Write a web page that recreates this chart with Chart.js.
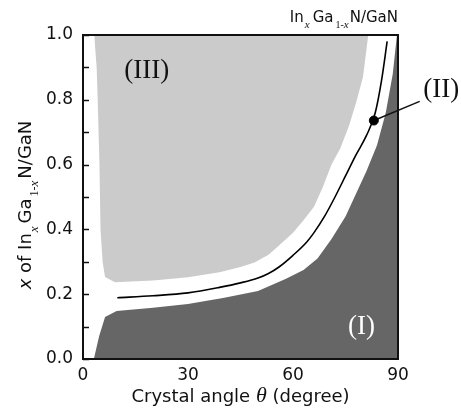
<!DOCTYPE html>
<html>
<head>
<meta charset="utf-8">
<script src="https://cdn.jsdelivr.net/npm/chart.js@4.4.0/dist/chart.umd.min.js"></script>
<style>
    body { margin: 0; background: #fff; }
    #caixa { width: 461px; height: 412px; }
</style>
</head>
<body>
<div id="caixa"><canvas id="graficoFases"></canvas></div>
<script>

// regiao (I) - borda de cima da area escura
const escuraX = [3.1, 4.6, 6.3, 9.6, 20, 30, 40, 50, 58, 63, 67, 71, 75, 78, 81, 84, 86.5, 88.5, 89.7, 90];
const escuraY = [0.0, 0.07, 0.13, 0.148, 0.158, 0.17, 0.188, 0.21, 0.248, 0.275, 0.31, 0.37, 0.44, 0.51, 0.58, 0.66, 0.76, 0.88, 1.0, 1.0];

// regiao (III) - borda da area cinza clara
const claraX = [3.2, 3.9, 4.2, 4.7, 5.0, 5.6, 6.3, 9.1, 20, 30, 39, 45, 49, 53, 56, 60, 63, 66, 68.5, 71, 73.5, 76, 78, 80, 81.5];
const claraY = [1.0, 0.9, 0.8, 0.6, 0.4, 0.3, 0.253, 0.237, 0.242, 0.252, 0.268, 0.284, 0.298, 0.322, 0.35, 0.39, 0.428, 0.47, 0.53, 0.6, 0.65, 0.72, 0.79, 0.87, 1.0];

// curva (II)
const curvaX = [9.8, 20, 30, 39, 45, 50, 53, 56, 60, 64, 66, 69, 72, 75, 78, 81, 83.5, 85.3, 86.9];
const curvaY = [0.189, 0.195, 0.204, 0.221, 0.235, 0.25, 0.264, 0.284, 0.32, 0.362, 0.39, 0.44, 0.5, 0.565, 0.63, 0.69, 0.76, 0.86, 0.98];

// ponto marcado e a linha que leva ao rotulo (II)
const pontoX = [83.1];
const pontoY = [0.736];
const guiaX = [83.1, 96.2];
const guiaY = [0.736, 0.795];

const ticksX = [0, 30, 60, 90];
const rotulosX = ['0', '30', '60', '90'];
const ticksY = [0, 0.2, 0.4, 0.6, 0.8, 1.0];
const rotulosY = ['0.0', '0.2', '0.4', '0.6', '0.8', '1.0'];

// rotulos das regioes, em coordenadas do grafico
const notas = [
    { texto: '(III)', x: 18.2, y: 0.868, cor: '#111', alinhar: 'center' },
    { texto: '(I)', x: 79.6, y: 0.076, cor: '#fff', alinhar: 'center' },
    { texto: '(II)', x: 97.2, y: 0.81, cor: '#111', alinhar: 'left' }
];

const SANS = '"DejaVu Sans", Verdana, sans-serif';
const SERIF = '"Liberation Serif", "Times New Roman", serif';

function juntar(xs, ys) {
    return xs.map((x, i) => ({ x: x, y: ys[i] }));
}

function rotuloDe(valor, lista, nomes) {
    let i = lista.findIndex(t => Math.abs(t - valor) < 1e-6);
    return i === -1 ? '' : nomes[i];
}

// escreve um texto com pedacos em fontes diferentes (subscritos)
function larguraPartes(ctx, partes) {
    let total = 0;
    partes.forEach(p => {
        ctx.font = p.f;
        total += (p.antes || 0) + ctx.measureText(p.t).width;
    });
    return total;
}

function escreverPartes(ctx, partes, x, y) {
    let posX = x;
    partes.forEach(p => {
        ctx.font = p.f;
        posX += p.antes || 0;
        ctx.fillText(p.t, posX, y + (p.dy || 0));
        posX += ctx.measureText(p.t).width;
    });
}

const tituloTopo = [
    { t: 'In', f: '15px ' + SANS },
    { t: 'x', f: 'italic 11px ' + SERIF, dy: 6, antes: 1 },
    { t: 'Ga', f: '15px ' + SANS, antes: 3 },
    { t: '1-', f: '10px ' + SERIF, dy: 6, antes: 2 },
    { t: 'x', f: 'italic 11px ' + SERIF, dy: 6 },
    { t: 'N/GaN', f: '15px ' + SANS, antes: 1 }
];

const tituloY = [
    { t: 'x', f: 'italic 18px ' + SANS },
    { t: ' of In', f: '18px ' + SANS },
    { t: 'x', f: 'italic 13px ' + SERIF, dy: 7, antes: 1 },
    { t: 'Ga', f: '18px ' + SANS, antes: 3 },
    { t: '1-', f: '12px ' + SERIF, dy: 7, antes: 2 },
    { t: 'x', f: 'italic 13px ' + SERIF, dy: 7 },
    { t: 'N/GaN', f: '18px ' + SANS, antes: 2 }
];

const tituloX = [
    { t: 'Crystal angle ', f: '18px ' + SANS },
    { t: '\u03B8', f: 'italic 22px ' + SERIF },
    { t: ' (degree)', f: '18px ' + SANS }
];

const desenhos = {
    id: 'desenhos',
    afterDatasetsDraw(chart) {
        const ctx = chart.ctx;
        const area = chart.chartArea;
        const sx = chart.scales.x;
        const sy = chart.scales.y;

        ctx.save();

        // tracinhos do eixo y, para dentro
        ctx.strokeStyle = '#111';
        ctx.lineWidth = 1.5;
        sy.ticks.forEach(t => {
            let py = Math.round(sy.getPixelForValue(t.value)) + 0.5;
            ctx.beginPath();
            ctx.moveTo(area.left, py);
            ctx.lineTo(area.left + 6, py);
            ctx.stroke();
        });

        // moldura
        ctx.lineWidth = 2;
        ctx.strokeRect(area.left, area.top, area.right - area.left, area.bottom - area.top);

        // rotulos das regioes
        ctx.textBaseline = 'alphabetic';
        notas.forEach(n => {
            ctx.font = '27px ' + SERIF;
            ctx.fillStyle = n.cor;
            ctx.textAlign = n.alinhar;
            ctx.fillText(n.texto, sx.getPixelForValue(n.x), sy.getPixelForValue(n.y));
        });

        ctx.textAlign = 'left';
        ctx.fillStyle = '#111';

        // titulo de cima, alinhado a direita da moldura
        let w = larguraPartes(ctx, tituloTopo);
        escreverPartes(ctx, tituloTopo, area.right - w, 22);

        // titulo do eixo x
        w = larguraPartes(ctx, tituloX);
        escreverPartes(ctx, tituloX, (area.left + area.right) / 2 - w / 2, 402);

        // titulo do eixo y, girado
        w = larguraPartes(ctx, tituloY);
        ctx.translate(31, (area.top + area.bottom) / 2 + 8);
        ctx.rotate(-Math.PI / 2);
        escreverPartes(ctx, tituloY, -w / 2, 0);

        ctx.restore();
    }
};

const ctx = document.getElementById('graficoFases');

new Chart(ctx, {
    type: 'scatter',
    data: {
        datasets: [
            {
                label: 'ponto',
                data: juntar(pontoX, pontoY),
                backgroundColor: '#000',
                borderColor: '#000',
                pointRadius: 4.5,
                order: 0
            },
            {
                label: 'guia',
                data: juntar(guiaX, guiaY),
                showLine: true,
                borderColor: '#111',
                borderWidth: 1.5,
                pointRadius: 0,
                clip: false,
                order: 1
            },
            {
                label: 'curva (II)',
                data: juntar(curvaX, curvaY),
                showLine: true,
                borderColor: '#000',
                borderWidth: 1.6,
                pointRadius: 0,
                cubicInterpolationMode: 'monotone',
                order: 2
            },
            {
                label: 'regiao (III)',
                data: juntar(claraX, claraY),
                showLine: true,
                borderWidth: 0,
                borderColor: 'rgba(0,0,0,0)',
                backgroundColor: '#cbcbcb',
                pointRadius: 0,
                fill: 'end',
                order: 3
            },
            {
                label: 'regiao (I)',
                data: juntar(escuraX, escuraY),
                showLine: true,
                borderWidth: 0,
                borderColor: 'rgba(0,0,0,0)',
                backgroundColor: '#666666',
                pointRadius: 0,
                fill: 'start',
                order: 4
            }
        ]
    },
    options: {
        responsive: true,
        maintainAspectRatio: false,
        animation: false,
        layout: {
            padding: { left: 0, top: 35, right: 63, bottom: 0 }
        },
        plugins: {
            legend: { display: false },
            tooltip: { enabled: false }
        },
        scales: {
            x: {
                type: 'linear',
                min: 0,
                max: 90,
                grid: { display: false, drawTicks: false },
                border: { display: false },
                ticks: {
                    stepSize: 30,
                    padding: 6,
                    color: '#111',
                    font: { family: SANS, size: 17 },
                    callback: v => rotuloDe(v, ticksX, rotulosX)
                },
                afterFit: scale => { scale.height = 53; }
            },
            y: {
                type: 'linear',
                min: 0,
                max: 1,
                grid: { display: false, drawTicks: false },
                border: { display: false },
                ticks: {
                    stepSize: 0.1,
                    padding: 10,
                    color: '#111',
                    autoSkip: false,
                    font: { family: SANS, size: 17 },
                    callback: v => rotuloDe(v, ticksY, rotulosY)
                },
                afterFit: scale => { scale.width = 83; }
            }
        }
    },
    plugins: [desenhos]
});
</script>
</body>
</html>
